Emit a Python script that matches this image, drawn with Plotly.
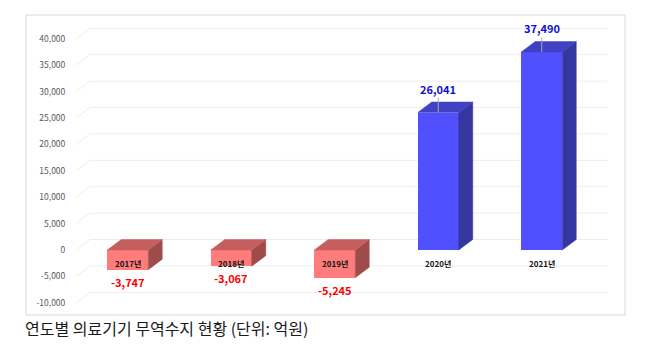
import plotly.graph_objects as go

# ---- data ----
categories = ["2017년", "2018년", "2019년", "2020년", "2021년"]
values = [-3747, -3067, -5245, 26041, 37490]
value_labels = ["-3,747", "-3,067", "-5,245", "26,041", "37,490"]
tick_vals = [-10000, -5000, 0, 5000, 10000, 15000, 20000, 25000, 30000, 35000, 40000]
tick_text = ["-10,000", "-5,000", "0", "5,000", "10,000", "15,000", "20,000",
             "25,000", "30,000", "35,000", "40,000"]
caption = "연도별 의료기기 무역수지 현황 (단위: 억원)"

# ---- geometry helpers (pixel -> data conversions) ----
PX_PER_CAT = 103.5
PX_PER_VAL = 0.00528
L, R, T, B = 76, 42, 18, 42
W, H = 650, 354
plot_w = W - L - R
plot_h = H - T - B
x_min = -0.5
x_max = x_min + plot_w / PX_PER_CAT
y_top = (250 - T) / PX_PER_VAL
y_bot = (250 - (H - B)) / PX_PER_VAL
DX = 14 / PX_PER_CAT
DY = 10.5 / PX_PER_VAL
BAR_W = 41 / PX_PER_CAT

pos_cols = dict(front="#5050FF", top="#4141C4", side="#3636A0")
neg_cols = dict(front="#FF7C7C", top="#C55F5F", side="#A04B4B")

fig = go.Figure()
shapes = []

# back-wall gridlines with floor diagonals (drawn below traces)
for t in tick_vals:
    shapes.append(dict(type="path", xref="x", yref="y", layer="below",
                       path=f"M {x_min},{t} L {x_min + DX},{t + DY} L {4.5 + DX},{t + DY}",
                       line=dict(color="#EDEDED", width=1)))

xs = list(range(len(categories)))
for i, v in zip(xs, values):
    c = pos_cols if v >= 0 else neg_cols
    top = max(v, 0)
    bot = min(v, 0)
    xl, xr = i - BAR_W / 2, i + BAR_W / 2
    # side face
    fig.add_trace(go.Scatter(
        x=[xr, xr, xr + DX, xr + DX, xr], y=[top, bot, bot + DY, top + DY, top],
        fill="toself", fillcolor=c["side"], mode="lines",
        line=dict(color=c["side"], width=0.5), hoverinfo="skip", showlegend=False))
    # top face
    fig.add_trace(go.Scatter(
        x=[xl, xr, xr + DX, xl + DX, xl], y=[top, top, top + DY, top + DY, top],
        fill="toself", fillcolor=c["top"], mode="lines",
        line=dict(color=c["top"], width=0.5), hoverinfo="skip", showlegend=False))

# front faces
fig.add_trace(go.Bar(
    x=xs, y=values, width=BAR_W,
    marker=dict(color=[pos_cols["front"] if v >= 0 else neg_cols["front"] for v in values],
                line=dict(width=0)),
    hoverinfo="skip", showlegend=False))

annotations = []
for i, v, lab, cat in zip(xs, values, value_labels, categories):
    annotations.append(dict(
        x=i, y=0, xref="x", yref="y", text=f"<b>{cat}</b>", showarrow=False,
        yshift=-13, font=dict(size=8, color="#111111", family="Noto Sans CJK KR")))
    if v >= 0:
        annotations.append(dict(
            x=i, y=v, xref="x", yref="y", text=f"<b>{lab}</b>", showarrow=True,
            arrowhead=0, arrowwidth=1, arrowcolor="#A6A6A6", ax=0, ay=-24,
            standoff=0, font=dict(size=11, color="#1010D0", family="Noto Sans CJK KR")))
    else:
        annotations.append(dict(
            x=i, y=v, xref="x", yref="y", text=f"<b>{lab}</b>", showarrow=False,
            yshift=-12, font=dict(size=11, color="#FF0000", family="Noto Sans CJK KR")))

annotations.append(dict(
    x=(23 - L) / plot_w, y=(H - B - 328) / plot_h, xref="paper", yref="paper",
    xanchor="left", yanchor="middle", text=caption, showarrow=False,
    font=dict(size=16, color="#1A1A1A", family="Noto Sans CJK KR")))

shapes.append(dict(type="rect", xref="paper", yref="paper",
                   x0=(26 - L) / plot_w, x1=(625 - L) / plot_w,
                   y0=(H - B - 315) / plot_h, y1=(H - B - 15) / plot_h,
                   line=dict(color="#D9D9D9", width=1), layer="below"))

fig.update_layout(
    width=W, height=H,
    margin=dict(l=L, r=R, t=T, b=B),
    paper_bgcolor="white", plot_bgcolor="white",
    bargap=0,
    xaxis=dict(range=[x_min, x_max], visible=False, fixedrange=True),
    yaxis=dict(range=[y_bot, y_top], tickvals=tick_vals, ticktext=tick_text,
               showgrid=False, zeroline=False, showline=False,
               ticks="outside", ticklen=8, tickcolor="rgba(0,0,0,0)",
               tickfont=dict(size=8.5, color="#595959", family="Noto Sans CJK KR")),
    annotations=annotations,
    shapes=shapes,
)

fig.write_html("out.html")
